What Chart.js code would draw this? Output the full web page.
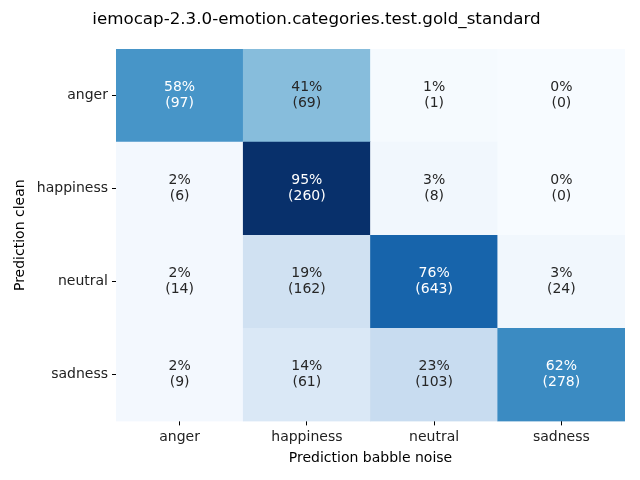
<!DOCTYPE html>
<html>
<head>
<meta charset="utf-8">
<script src="https://cdn.jsdelivr.net/npm/chart.js@4"></script>
<style>
  html, body { margin: 0; padding: 0; background: #fff; }
  #wrap { width: 640px; height: 480px; }
</style>
</head>
<body>
<div id="wrap"><canvas id="chart" width="640" height="480"></canvas></div>
<script>
'use strict';

// rows = prediction clean (top to bottom), cols = prediction babble noise
const rowLabels = ['anger', 'happiness', 'neutral', 'sadness'];
const colLabels = ['anger', 'happiness', 'neutral', 'sadness'];
const percents = [
  [58, 41, 1, 0],
  [2, 95, 3, 0],
  [2, 19, 76, 3],
  [2, 14, 23, 62]
];
const counts = [
  [97, 69, 1, 0],
  [6, 260, 8, 0],
  [14, 162, 643, 24],
  [9, 61, 103, 278]
];

// matplotlib "Blues"
const blues = ['#f7fbff', '#deebf7', '#c6dbef', '#9ecae1', '#6baed6', '#4292c6', '#2171b5', '#08519c', '#08306b'];

function hexToRgb(h) {
  return [parseInt(h.slice(1, 3), 16), parseInt(h.slice(3, 5), 16), parseInt(h.slice(5, 7), 16)];
}

function bluesColor(t) {
  t = Math.max(0, Math.min(1, t));
  let pos = t * (blues.length - 1);
  let i = Math.min(Math.floor(pos), blues.length - 2);
  let f = pos - i;
  let a = hexToRgb(blues[i]);
  let b = hexToRgb(blues[i + 1]);
  let c = a.map((v, k) => Math.round(v + (b[k] - v) * f));
  return 'rgb(' + c.join(',') + ')';
}

const maxPct = Math.max(...percents.flat());

// stacked bars, bottom row first
const datasets = [];
for (let r = rowLabels.length - 1; r >= 0; r--) {
  datasets.push({
    label: rowLabels[r],
    row: r,
    data: colLabels.map(() => 1),
    backgroundColor: percents[r].map(p => bluesColor(p / maxPct)),
    borderWidth: 0,
    barPercentage: 1,
    categoryPercentage: 1
  });
}

const cellText = {
  id: 'cellText',
  afterDatasetsDraw(chart) {
    const ctx = chart.ctx;
    ctx.save();
    ctx.font = '14px "DejaVu Sans"';
    ctx.textAlign = 'center';
    ctx.textBaseline = 'middle';
    chart.data.datasets.forEach((ds, di) => {
      const meta = chart.getDatasetMeta(di);
      meta.data.forEach((bar, c) => {
        const p = percents[ds.row][c];
        const cy = (bar.y + bar.base) / 2;
        ctx.fillStyle = p / maxPct > 0.5 ? '#ffffff' : '#262626';
        ctx.fillText(p + '%', bar.x, cy - 8);
        ctx.fillText('(' + counts[ds.row][c] + ')', bar.x, cy + 8);
      });
    });
    ctx.restore();
  }
};

const canvasEl = document.getElementById('chart');

new Chart(canvasEl, {
  type: 'bar',
  data: {
    labels: colLabels,
    datasets: datasets
  },
  options: {
    responsive: false,
    animation: false,
    layout: { padding: { left: 8, right: 15, top: 0, bottom: 9 } },
    plugins: {
      legend: { display: false },
      tooltip: { enabled: false },
      title: {
        display: true,
        text: 'iemocap-2.3.0-emotion.categories.test.gold_standard',
        color: '#000',
        font: { family: 'DejaVu Sans', size: 16.7, weight: 'normal' },
        padding: { top: 10, bottom: 19 }
      }
    },
    scales: {
      x: {
        stacked: true,
        border: { display: false },
        grid: { drawOnChartArea: false, offset: false, tickLength: 4, color: '#000' },
        ticks: { color: '#222', padding: 4, font: { family: 'DejaVu Sans', size: 14 } },
        title: {
          display: true,
          text: 'Prediction babble noise',
          color: '#000',
          padding: { top: 0 },
          font: { family: 'DejaVu Sans', size: 14 }
        }
      },
      y: {
        stacked: true,
        min: 0,
        max: rowLabels.length,
        border: { display: false },
        afterBuildTicks: axis => {
          axis.ticks = rowLabels.map((l, i) => ({ value: i + 0.5 }));
        },
        grid: { drawOnChartArea: false, tickLength: 4, color: '#000' },
        ticks: {
          color: '#222',
          padding: 4,
          font: { family: 'DejaVu Sans', size: 14 },
          callback: v => rowLabels[rowLabels.length - 1 - Math.floor(v)]
        },
        title: {
          display: true,
          text: 'Prediction clean',
          color: '#000',
          padding: { bottom: 4 },
          font: { family: 'DejaVu Sans', size: 14 }
        }
      }
    }
  },
  plugins: [cellText]
});
</script>
</body>
</html>
